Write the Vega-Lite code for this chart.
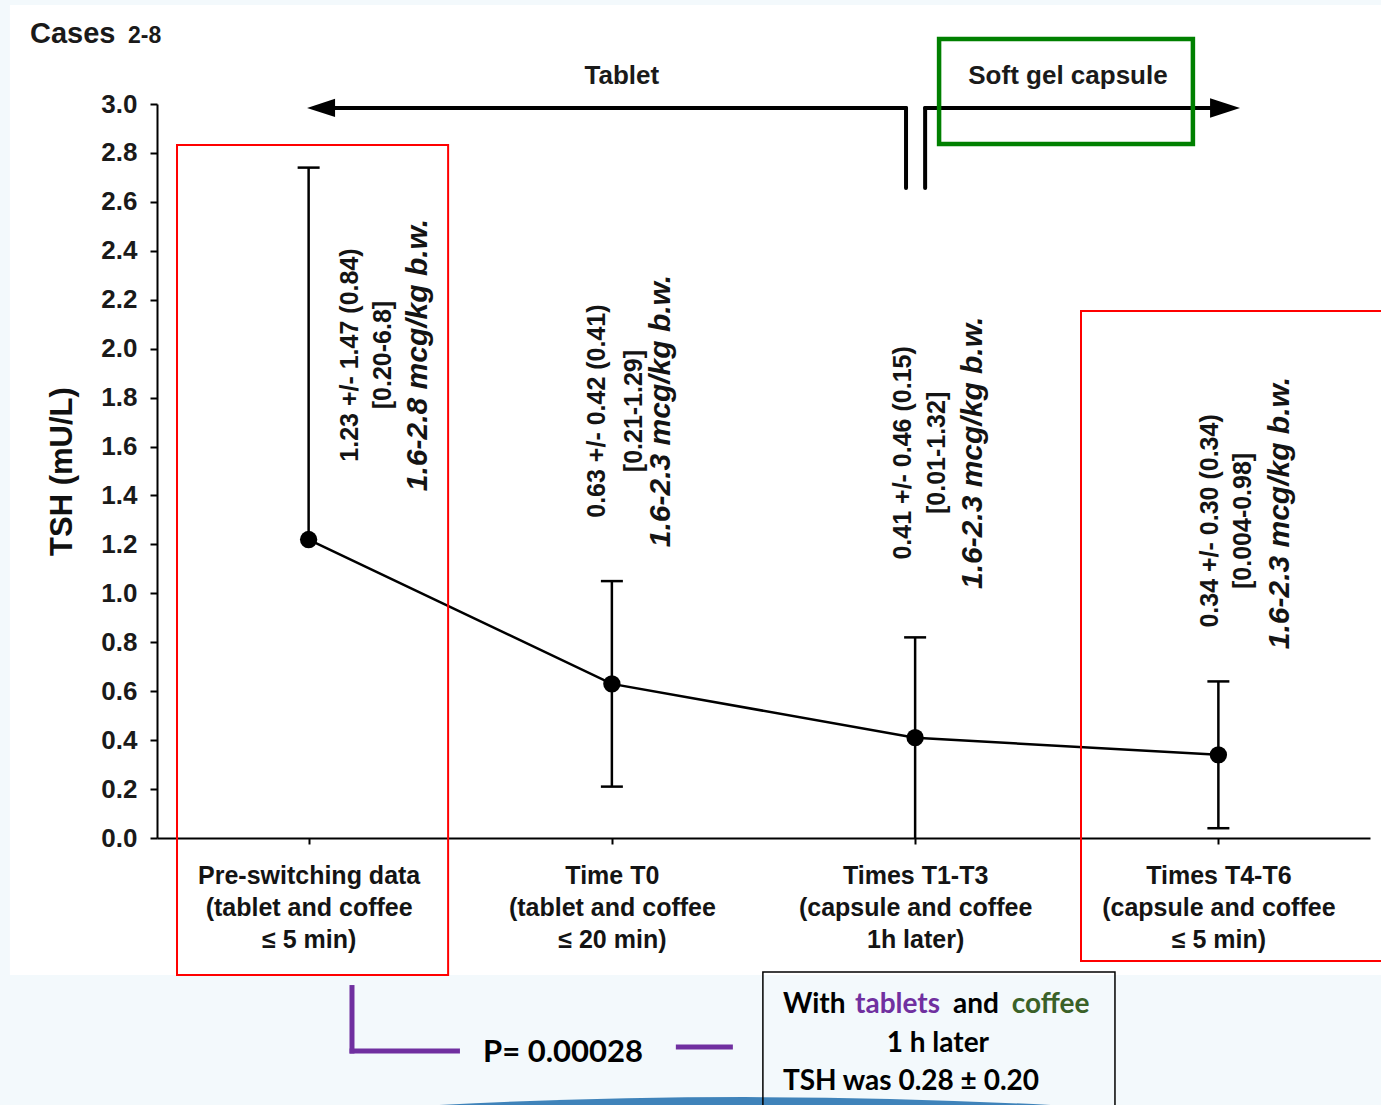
{
  "$schema": "https://vega.github.io/schema/vega-lite/v6.json",
  "width": 1213,
  "height": 734,
  "autosize": {"type": "none"},
  "padding": {"left": 157, "top": 104, "right": 11, "bottom": 267},
  "background": "#ffffff",
  "config": {"view": {"stroke": null}, "font": "Liberation Sans"},
  "resolve": {"scale": {"x": "independent"}},
  "layer": [
    {
      "data": {"values": [{}]},
      "layer": [
        {"mark": {"type": "rect", "color": "#f3f9fc"},
         "encoding": {"x": {"datum": -0.6, "type": "quantitative", "scale": {"domain": [0, 4]}, "axis": null}, "x2": {"datum": 4.2},
                      "y": {"datum": -0.56, "type": "quantitative"}, "y2": {"datum": -1.2}}},
        {"mark": {"type": "rect", "color": "#f3f9fc"},
         "encoding": {"x": {"datum": -0.6, "type": "quantitative", "scale": {"domain": [0, 4]}, "axis": null}, "x2": {"datum": 4.2},
                      "y": {"datum": 3.405, "type": "quantitative"}, "y2": {"datum": 3.45}}},
        {"mark": {"type": "rect", "color": "#f3f9fc"},
         "encoding": {"x": {"datum": -0.6, "type": "quantitative", "scale": {"domain": [0, 4]}, "axis": null}, "x2": {"datum": -0.485},
                      "y": {"datum": -1.2, "type": "quantitative"}, "y2": {"datum": 3.45}}},
        {"mark": {"type": "point", "shape": "M-1,0.03Q0,-0.03,1,0.03Z", "size": 504100, "filled": true, "color": "#1f6fae", "opacity": 0.85},
         "encoding": {"x": {"datum": 1.939, "type": "quantitative", "scale": {"domain": [0, 4]}, "axis": null}, "y": {"datum": -1.059, "type": "quantitative"}}}
      ]
    },
    {
      "data": {"values": [
        {"stage": "Pre-switching data\n(tablet and coffee\n≤ 5 min)", "mean": 1.22, "low": 1.22, "high": 2.74},
        {"stage": "Time T0\n(tablet and coffee\n≤ 20 min)", "mean": 0.63, "low": 0.21, "high": 1.05},
        {"stage": "Times T1-T3\n(capsule and coffee\n1h later)", "mean": 0.41, "low": 0.0, "high": 0.82},
        {"stage": "Times T4-T6\n(capsule and coffee\n≤ 5 min)", "mean": 0.34, "low": 0.04, "high": 0.64}
      ]},
      "encoding": {
        "x": {"field": "stage", "type": "nominal", "sort": null,
              "scale": {"type": "point", "padding": 0.5},
              "axis": {"title": null, "labelAngle": 0, "labelExpr": "split(datum.label, '\\n')",
                       "labelFont": "Liberation Sans", "labelFontSize": 25, "labelFontWeight": "bold",
                       "labelColor": "#141414", "labelLineHeight": 32, "labelPadding": 19, "labelLimit": 0,
                       "labelBaseline": "top", "tickSize": 6, "tickWidth": 2, "tickColor": "#000000",
                       "domainColor": "#000000", "domainWidth": 2, "grid": false}}
      },
      "layer": [
        {"mark": {"type": "rule", "color": "#000000", "strokeWidth": 2.5},
         "encoding": {
           "y": {"field": "low", "type": "quantitative",
                 "scale": {"domain": [0, 3], "nice": false, "zero": false},
                 "axis": {"title": "TSH (mU/L)", "titleFont": "Liberation Sans", "titleFontSize": 31,
                          "titleFontWeight": "bold", "titleColor": "#111111", "titlePadding": 22,
                          "values": [0, 0.2, 0.4, 0.6, 0.8, 1, 1.2, 1.4, 1.6, 1.8, 2, 2.2, 2.4, 2.6, 2.8, 3],
                          "format": ".1f", "labelFont": "Liberation Sans", "labelFontSize": 26,
                          "labelFontWeight": "bold", "labelColor": "#1a1a1a", "labelPadding": 13,
                          "tickSize": 7, "tickWidth": 2, "tickColor": "#000000",
                          "domainColor": "#000000", "domainWidth": 2, "grid": false}},
           "y2": {"field": "high"}}},
        {"mark": {"type": "tick", "color": "#000000", "size": 22, "thickness": 2.5, "opacity": 1},
         "encoding": {"y": {"field": "high", "type": "quantitative"}}},
        {"transform": [{"filter": "datum.low > 0 && datum.low < datum.mean"}],
         "mark": {"type": "tick", "color": "#000000", "size": 22, "thickness": 2.5, "opacity": 1},
         "encoding": {"y": {"field": "low", "type": "quantitative"}}},
        {"mark": {"type": "line", "color": "#000000", "strokeWidth": 2.5},
         "encoding": {"y": {"field": "mean", "type": "quantitative"}}},
        {"mark": {"type": "point", "filled": true, "color": "#000000", "size": 300, "opacity": 1},
         "encoding": {"y": {"field": "mean", "type": "quantitative"}}}
      ]
    },
    {
      "data": {"values": [{}]},
      "layer": [
        {"mark": {"type": "text", "text": "Cases", "fontSize": 29, "fontWeight": "bold", "align": "left", "baseline": "alphabetic", "color": "#1a1a1a"},
         "encoding": {"x": {"datum": -0.419, "type": "quantitative", "scale": {"domain": [0, 4]}, "axis": null}, "y": {"datum": 3.249, "type": "quantitative"}}},
        {"mark": {"type": "text", "text": "2-8", "fontSize": 23, "fontWeight": "bold", "align": "left", "baseline": "alphabetic", "color": "#1a1a1a"},
         "encoding": {"x": {"datum": -0.0956, "type": "quantitative", "scale": {"domain": [0, 4]}, "axis": null}, "y": {"datum": 3.249, "type": "quantitative"}}},
        {"mark": {"type": "text", "text": "Tablet", "fontSize": 26, "fontWeight": "bold", "align": "center", "baseline": "alphabetic", "color": "#1a1a1a"},
         "encoding": {"x": {"datum": 1.533, "type": "quantitative", "scale": {"domain": [0, 4]}, "axis": null}, "y": {"datum": 3.082, "type": "quantitative"}}},
        {"mark": {"type": "text", "text": "Soft gel capsule", "fontSize": 26, "fontWeight": "bold", "align": "center", "baseline": "alphabetic", "color": "#1a1a1a"},
         "encoding": {"x": {"datum": 3.004, "type": "quantitative", "scale": {"domain": [0, 4]}, "axis": null}, "y": {"datum": 3.082, "type": "quantitative"}}},

        {"mark": {"type": "rule", "color": "#000000", "strokeWidth": 4, "strokeCap": "round"},
         "encoding": {"x": {"datum": 0.57, "type": "quantitative", "scale": {"domain": [0, 4]}, "axis": null}, "x2": {"datum": 2.47}, "y": {"datum": 2.984, "type": "quantitative"}}},
        {"mark": {"type": "rule", "color": "#000000", "strokeWidth": 4, "strokeCap": "round"},
         "encoding": {"x": {"datum": 2.47, "type": "quantitative", "scale": {"domain": [0, 4]}, "axis": null}, "y": {"datum": 2.984, "type": "quantitative"}, "y2": {"datum": 2.657}}},
        {"mark": {"type": "rule", "color": "#000000", "strokeWidth": 4, "strokeCap": "round"},
         "encoding": {"x": {"datum": 2.533, "type": "quantitative", "scale": {"domain": [0, 4]}, "axis": null}, "y": {"datum": 2.984, "type": "quantitative"}, "y2": {"datum": 2.657}}},
        {"mark": {"type": "rule", "color": "#000000", "strokeWidth": 4, "strokeCap": "round"},
         "encoding": {"x": {"datum": 2.533, "type": "quantitative", "scale": {"domain": [0, 4]}, "axis": null}, "x2": {"datum": 3.489}, "y": {"datum": 2.984, "type": "quantitative"}}},
        {"mark": {"type": "point", "shape": "M-1,0L1,-0.65L1,0.65Z", "size": 784, "filled": true, "color": "#000000", "opacity": 1},
         "encoding": {"x": {"datum": 0.541, "type": "quantitative", "scale": {"domain": [0, 4]}, "axis": null}, "y": {"datum": 2.984, "type": "quantitative"}}},
        {"mark": {"type": "point", "shape": "M1,0L-1,-0.65L-1,0.65Z", "size": 900, "filled": true, "color": "#000000", "opacity": 1},
         "encoding": {"x": {"datum": 3.522, "type": "quantitative", "scale": {"domain": [0, 4]}, "axis": null}, "y": {"datum": 2.984, "type": "quantitative"}}},

        {"mark": {"type": "rect", "filled": false, "color": "#008000", "strokeWidth": 4.5},
         "encoding": {"x": {"datum": 2.579, "type": "quantitative", "scale": {"domain": [0, 4]}, "axis": null}, "x2": {"datum": 3.416}, "y": {"datum": 3.266, "type": "quantitative"}, "y2": {"datum": 2.837}}},
        {"mark": {"type": "rect", "filled": false, "color": "#ff0000", "strokeWidth": 2},
         "encoding": {"x": {"datum": 0.066, "type": "quantitative", "scale": {"domain": [0, 4]}, "axis": null}, "x2": {"datum": 0.96}, "y": {"datum": 2.832, "type": "quantitative"}, "y2": {"datum": -0.56}}},
        {"mark": {"type": "rect", "filled": false, "color": "#ff0000", "strokeWidth": 2},
         "encoding": {"x": {"datum": 3.047, "type": "quantitative", "scale": {"domain": [0, 4]}, "axis": null}, "x2": {"datum": 4.082}, "y": {"datum": 2.154, "type": "quantitative"}, "y2": {"datum": -0.503}}},

        {"mark": {"type": "text", "text": "1.23 +/- 1.47 (0.84)", "fontSize": 25, "fontWeight": "bold", "align": "center", "baseline": "middle", "angle": 270, "color": "#141414"},
         "encoding": {"x": {"datum": 0.636, "type": "quantitative", "scale": {"domain": [0, 4]}, "axis": null}, "y": {"datum": 1.974, "type": "quantitative"}}},
        {"mark": {"type": "text", "text": "[0.20-6.8]", "fontSize": 25, "fontWeight": "bold", "align": "center", "baseline": "middle", "angle": 270, "color": "#141414"},
         "encoding": {"x": {"datum": 0.745, "type": "quantitative", "scale": {"domain": [0, 4]}, "axis": null}, "y": {"datum": 1.974, "type": "quantitative"}}},
        {"mark": {"type": "text", "text": "1.6-2.8  mcg/kg b.w.", "fontSize": 30, "fontWeight": "bold", "fontStyle": "italic", "align": "center", "baseline": "middle", "angle": 270, "color": "#141414"},
         "encoding": {"x": {"datum": 0.861, "type": "quantitative", "scale": {"domain": [0, 4]}, "axis": null}, "y": {"datum": 1.974, "type": "quantitative"}}},

        {"mark": {"type": "text", "text": "0.63 +/- 0.42 (0.41)", "fontSize": 25, "fontWeight": "bold", "align": "center", "baseline": "middle", "angle": 270, "color": "#141414"},
         "encoding": {"x": {"datum": 1.451, "type": "quantitative", "scale": {"domain": [0, 4]}, "axis": null}, "y": {"datum": 1.745, "type": "quantitative"}}},
        {"mark": {"type": "text", "text": "[0.21-1.29]", "fontSize": 25, "fontWeight": "bold", "align": "center", "baseline": "middle", "angle": 270, "color": "#141414"},
         "encoding": {"x": {"datum": 1.573, "type": "quantitative", "scale": {"domain": [0, 4]}, "axis": null}, "y": {"datum": 1.745, "type": "quantitative"}}},
        {"mark": {"type": "text", "text": "1.6-2.3 mcg/kg b.w.", "fontSize": 30, "fontWeight": "bold", "fontStyle": "italic", "align": "center", "baseline": "middle", "angle": 270, "color": "#141414"},
         "encoding": {"x": {"datum": 1.662, "type": "quantitative", "scale": {"domain": [0, 4]}, "axis": null}, "y": {"datum": 1.745, "type": "quantitative"}}},

        {"mark": {"type": "text", "text": "0.41 +/- 0.46 (0.15)", "fontSize": 25, "fontWeight": "bold", "align": "center", "baseline": "middle", "angle": 270, "color": "#141414"},
         "encoding": {"x": {"datum": 2.46, "type": "quantitative", "scale": {"domain": [0, 4]}, "axis": null}, "y": {"datum": 1.574, "type": "quantitative"}}},
        {"mark": {"type": "text", "text": "[0.01-1.32]", "fontSize": 25, "fontWeight": "bold", "align": "center", "baseline": "middle", "angle": 270, "color": "#141414"},
         "encoding": {"x": {"datum": 2.572, "type": "quantitative", "scale": {"domain": [0, 4]}, "axis": null}, "y": {"datum": 1.574, "type": "quantitative"}}},
        {"mark": {"type": "text", "text": "1.6-2.3 mcg/kg b.w.", "fontSize": 30, "fontWeight": "bold", "fontStyle": "italic", "align": "center", "baseline": "middle", "angle": 270, "color": "#141414"},
         "encoding": {"x": {"datum": 2.691, "type": "quantitative", "scale": {"domain": [0, 4]}, "axis": null}, "y": {"datum": 1.574, "type": "quantitative"}}},

        {"mark": {"type": "text", "text": "0.34 +/- 0.30 (0.34)", "fontSize": 25, "fontWeight": "bold", "align": "center", "baseline": "middle", "angle": 270, "color": "#141414"},
         "encoding": {"x": {"datum": 3.472, "type": "quantitative", "scale": {"domain": [0, 4]}, "axis": null}, "y": {"datum": 1.296, "type": "quantitative"}}},
        {"mark": {"type": "text", "text": "[0.004-0.98]", "fontSize": 25, "fontWeight": "bold", "align": "center", "baseline": "middle", "angle": 270, "color": "#141414"},
         "encoding": {"x": {"datum": 3.581, "type": "quantitative", "scale": {"domain": [0, 4]}, "axis": null}, "y": {"datum": 1.296, "type": "quantitative"}}},
        {"mark": {"type": "text", "text": "1.6-2.3 mcg/kg b.w.", "fontSize": 30, "fontWeight": "bold", "fontStyle": "italic", "align": "center", "baseline": "middle", "angle": 270, "color": "#141414"},
         "encoding": {"x": {"datum": 3.703, "type": "quantitative", "scale": {"domain": [0, 4]}, "axis": null}, "y": {"datum": 1.328, "type": "quantitative"}}},

        {"mark": {"type": "rule", "color": "#7030a0", "strokeWidth": 5},
         "encoding": {"x": {"datum": 0.643, "type": "quantitative", "scale": {"domain": [0, 4]}, "axis": null}, "y": {"datum": -0.601, "type": "quantitative"}, "y2": {"datum": -0.881}}},
        {"mark": {"type": "rule", "color": "#7030a0", "strokeWidth": 5},
         "encoding": {"x": {"datum": 0.635, "type": "quantitative", "scale": {"domain": [0, 4]}, "axis": null}, "x2": {"datum": 0.999}, "y": {"datum": -0.871, "type": "quantitative"}}},
        {"mark": {"type": "text", "text": "P= 0.00028", "font": "Lato", "fontSize": 31, "fontWeight": "bold", "align": "left", "baseline": "alphabetic", "color": "#000000"},
         "encoding": {"x": {"datum": 1.075, "type": "quantitative", "scale": {"domain": [0, 4]}, "axis": null}, "y": {"datum": -0.916, "type": "quantitative"}}},
        {"mark": {"type": "rule", "color": "#7030a0", "strokeWidth": 5},
         "encoding": {"x": {"datum": 1.711, "type": "quantitative", "scale": {"domain": [0, 4]}, "axis": null}, "x2": {"datum": 1.899}, "y": {"datum": -0.854, "type": "quantitative"}}},

        {"mark": {"type": "rect", "filled": false, "color": "#000000", "strokeWidth": 1.5},
         "encoding": {"x": {"datum": 1.998, "type": "quantitative", "scale": {"domain": [0, 4]}, "axis": null}, "x2": {"datum": 3.159}, "y": {"datum": -0.548, "type": "quantitative"}, "y2": {"datum": -1.15}}},
        {"mark": {"type": "text", "text": "With", "font": "Lato", "fontSize": 28, "fontWeight": "bold", "align": "left", "baseline": "alphabetic", "color": "#000000"},
         "encoding": {"x": {"datum": 2.064, "type": "quantitative", "scale": {"domain": [0, 4]}, "axis": null}, "y": {"datum": -0.715, "type": "quantitative"}}},
        {"mark": {"type": "text", "text": "tablets", "font": "Lato", "fontSize": 28, "fontWeight": "bold", "align": "left", "baseline": "alphabetic", "color": "#7030a0"},
         "encoding": {"x": {"datum": 2.302, "type": "quantitative", "scale": {"domain": [0, 4]}, "axis": null}, "y": {"datum": -0.715, "type": "quantitative"}}},
        {"mark": {"type": "text", "text": "and", "font": "Lato", "fontSize": 28, "fontWeight": "bold", "align": "left", "baseline": "alphabetic", "color": "#000000"},
         "encoding": {"x": {"datum": 2.625, "type": "quantitative", "scale": {"domain": [0, 4]}, "axis": null}, "y": {"datum": -0.715, "type": "quantitative"}}},
        {"mark": {"type": "text", "text": "coffee", "font": "Lato", "fontSize": 28, "fontWeight": "bold", "align": "left", "baseline": "alphabetic", "color": "#3a6128"},
         "encoding": {"x": {"datum": 2.819, "type": "quantitative", "scale": {"domain": [0, 4]}, "axis": null}, "y": {"datum": -0.715, "type": "quantitative"}}},
        {"mark": {"type": "text", "text": "1 h later", "font": "Lato", "fontSize": 28, "fontWeight": "bold", "align": "center", "baseline": "alphabetic", "color": "#000000"},
         "encoding": {"x": {"datum": 2.575, "type": "quantitative", "scale": {"domain": [0, 4]}, "axis": null}, "y": {"datum": -0.875, "type": "quantitative"}}},
        {"mark": {"type": "text", "text": "TSH was 0.28 ± 0.20", "font": "Lato", "fontSize": 28, "fontWeight": "bold", "align": "left", "baseline": "alphabetic", "color": "#000000"},
         "encoding": {"x": {"datum": 2.064, "type": "quantitative", "scale": {"domain": [0, 4]}, "axis": null}, "y": {"datum": -1.03, "type": "quantitative"}}}
      ]
    }
  ]
}
